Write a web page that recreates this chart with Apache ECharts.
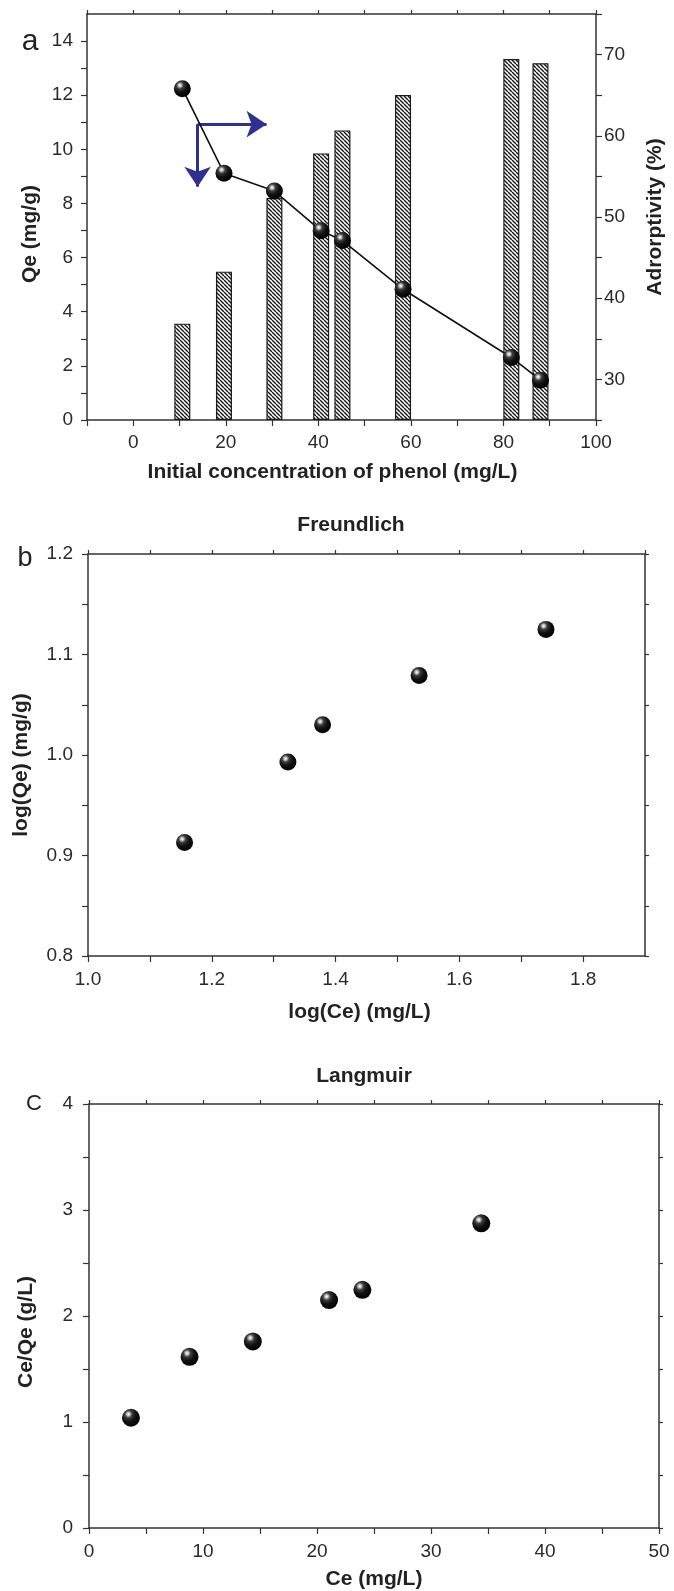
<!DOCTYPE html>
<html>
<head>
<meta charset="utf-8">
<script src="https://cdn.jsdelivr.net/npm/echarts@6/dist/echarts.min.js"></script>
<style>
html,body{margin:0;padding:0;background:#fff;}
#chart{width:674px;height:1591px;}
</style>
</head>
<body>
<div id="chart"></div>
<script>
// ---- Data (panel a) ----
var concentration = [10.6, 19.6, 30.5, 40.6, 45.2, 58.3, 81.7, 88.0];
var qe = [3.56, 5.48, 8.2, 9.85, 10.7, 12.01, 13.34, 13.18];
var adsorptivity = [65.8, 55.4, 53.2, 48.3, 47.1, 41.1, 32.7, 29.9];
// arrows annotation (data coords: x, Qe)
var arrowOrigin = [13.9, 10.93];
var arrowRightEnd = [28.8, 10.93];
var arrowDownEnd = [13.9, 8.62];
// ---- Data (panel b, Freundlich) ----
var logCe = [1.156, 1.323, 1.379, 1.535, 1.740];
var logQe = [0.913, 0.993, 1.030, 1.079, 1.125];
// ---- Data (panel c, Langmuir) ----
var ce = [3.68, 8.82, 14.37, 21.06, 23.98, 34.41];
var ceQe = [1.04, 1.615, 1.76, 2.15, 2.247, 2.874];

function zip(a, b) { return a.map(function (v, i) { return [v, b[i]]; }); }

// hatch pattern
var hatch = document.createElement('canvas');
hatch.width = 4; hatch.height = 4;
(function () {
  var c = hatch.getContext('2d');
  c.fillStyle = '#fff'; c.fillRect(0, 0, 4, 4);
  c.strokeStyle = '#1a1a1a'; c.lineWidth = 1.4;
  for (var x = -4; x <= 4; x += 4) {
    c.beginPath(); c.moveTo(x, 0); c.lineTo(x + 4, 4); c.stroke();
  }
})();

var FONT = "'Liberation Sans', Arial, Helvetica, sans-serif";
var AX = '#333';
var ball = {
  type: 'radial', x: 0.36, y: 0.3, r: 0.75,
  colorStops: [
    { offset: 0, color: '#ffffff' },
    { offset: 0.1, color: '#d0d0d0' },
    { offset: 0.28, color: '#3c3c3c' },
    { offset: 0.55, color: '#111111' },
    { offset: 1, color: '#000000' }
  ]
};

function fmtEvery(step, dec) {
  return function (v) {
    var r = Math.round(v / step);
    if (Math.abs(v / step - r) < 1e-6) return dec ? v.toFixed(dec) : String(Math.round(v));
    return '';
  };
}

function mainAxis(o) {
  return {
    type: 'value',
    gridIndex: o.grid,
    min: o.min, max: o.max, interval: o.interval,
    position: o.position,
    axisLine: { show: true, onZero: false, lineStyle: { color: AX, width: 1.5 } },
    axisTick: { show: true, inside: false, length: 6, lineStyle: { color: AX, width: 1.2 } },
    axisLabel: {
      show: true, margin: o.margin, color: '#2a2a2a', fontSize: 19, fontFamily: FONT,
      formatter: o.formatter, showMaxLabel: o.showMax !== false, showMinLabel: true
    },
    splitLine: { show: false },
    name: o.name, nameLocation: 'middle', nameGap: o.nameGap,
    nameTextStyle: { fontSize: 21, fontWeight: 'bold', fontFamily: FONT, color: '#222', padding: o.namePad || 0 }
  };
}
function frameAxis(o) {
  return {
    type: 'value', gridIndex: o.grid, min: o.min, max: o.max, interval: o.interval,
    position: o.position,
    axisLine: { show: true, onZero: false, lineStyle: { color: AX, width: 1.5 } },
    axisTick: { show: true, inside: false, length: 4, lineStyle: { color: AX, width: 1.2 } },
    axisLabel: { show: false }, splitLine: { show: false }
  };
}

var option = {
  animation: false,
  backgroundColor: '#fff',
  grid: [
    { left: 87, top: 14, width: 518, height: 406 },
    { left: 88, top: 554, width: 557, height: 402 },
    { left: 89, top: 1104, width: 570, height: 424 }
  ],
  xAxis: [
    mainAxis({ grid: 0, min: -10, max: 100, interval: 10, position: 'bottom', margin: 13,
      formatter: fmtEvery(20, 0), name: 'Initial concentration of phenol (mg/L)', nameGap: 42, namePad: [0, 18, 0, 0] }),
    frameAxis({ grid: 0, min: -10, max: 100, interval: 10, position: 'top' }),
    mainAxis({ grid: 1, min: 1.0, max: 1.9, interval: 0.1, position: 'bottom', margin: 14,
      formatter: fmtEvery(0.2, 1), showMax: false, name: 'log(Ce) (mg/L)', nameGap: 46, namePad: [0, 14, 0, 0] }),
    frameAxis({ grid: 1, min: 1.0, max: 1.9, interval: 0.1, position: 'top' }),
    mainAxis({ grid: 2, min: 0, max: 50, interval: 5, position: 'bottom', margin: 14,
      formatter: fmtEvery(10, 0), name: 'Ce (mg/L)', nameGap: 41 }),
    frameAxis({ grid: 2, min: 0, max: 50, interval: 5, position: 'top' })
  ],
  yAxis: [
    mainAxis({ grid: 0, min: 0, max: 15, interval: 1, position: 'left', margin: 14,
      formatter: fmtEvery(2, 0), showMax: false, name: 'Qe (mg/g)', nameGap: 45, namePad: [0, 34, 0, 0] }),
    mainAxis({ grid: 0, min: 25, max: 75, interval: 5, position: 'right', margin: 8,
      formatter: fmtEvery(10, 0), name: 'Adrorptivity (%)', nameGap: 49 }),
    mainAxis({ grid: 1, min: 0.8, max: 1.2, interval: 0.05, position: 'left', margin: 15,
      formatter: fmtEvery(0.1, 1), name: 'log(Qe) (mg/g)', nameGap: 56, namePad: [0, 20, 0, 0] }),
    frameAxis({ grid: 1, min: 0.8, max: 1.2, interval: 0.05, position: 'right' }),
    mainAxis({ grid: 2, min: 0, max: 4, interval: 0.5, position: 'left', margin: 16,
      formatter: fmtEvery(1, 0), name: 'Ce/Qe (g/L)', nameGap: 52, namePad: [0, 32, 0, 0] }),
    frameAxis({ grid: 2, min: 0, max: 4, interval: 0.5, position: 'right' })
  ],
  graphic: [
    { type: 'text', x: 30, y: 42, style: { text: 'a', fontSize: 30, fontFamily: FONT, fill: '#222', align: 'center', verticalAlign: 'middle' } },
    { type: 'text', x: 25, y: 559, style: { text: 'b', fontSize: 27, fontFamily: FONT, fill: '#222', align: 'center', verticalAlign: 'middle' } },
    { type: 'text', x: 34, y: 1104, style: { text: 'C', fontSize: 22, fontFamily: FONT, fill: '#222', align: 'center', verticalAlign: 'middle' } },
    { type: 'text', x: 351, y: 525, style: { text: 'Freundlich', fontSize: 21, fontWeight: 'bold', fontFamily: FONT, fill: '#222', align: 'center', verticalAlign: 'middle' } },
    { type: 'text', x: 364, y: 1076, style: { text: 'Langmuir', fontSize: 21, fontWeight: 'bold', fontFamily: FONT, fill: '#222', align: 'center', verticalAlign: 'middle' } }
  ],
  series: [
    {
      type: 'bar', xAxisIndex: 0, yAxisIndex: 0,
      data: zip(concentration, qe),
      barWidth: 16,
      itemStyle: { color: { image: hatch, repeat: 'repeat' }, borderColor: '#1a1a1a', borderWidth: 1.2 },
      z: 2,
      markLine: {
        silent: true, animation: false,
        symbol: ['none', 'arrow'], symbolSize: 20,
        label: { show: false },
        lineStyle: { type: 'solid', color: '#2e3192', width: 3 },
        data: [
          [{ coord: arrowOrigin }, { coord: arrowRightEnd }],
          [{ coord: arrowOrigin }, { coord: arrowDownEnd }]
        ]
      }
    },
    {
      type: 'line', xAxisIndex: 0, yAxisIndex: 1,
      data: zip(concentration, adsorptivity),
      symbol: 'circle', symbolSize: 17,
      lineStyle: { color: '#111', width: 1.6 },
      itemStyle: { color: ball, opacity: 1 },
      z: 5
    },
    {
      type: 'scatter', xAxisIndex: 2, yAxisIndex: 2,
      data: zip(logCe, logQe),
      symbol: 'circle', symbolSize: 17,
      itemStyle: { color: ball, opacity: 1 }
    },
    {
      type: 'scatter', xAxisIndex: 4, yAxisIndex: 4,
      data: zip(ce, ceQe),
      symbol: 'circle', symbolSize: 18,
      itemStyle: { color: ball, opacity: 1 }
    }
  ]
};

var chart = echarts.init(document.getElementById('chart'), null, { renderer: 'canvas' });
chart.setOption(option);
</script>
</body>
</html>
